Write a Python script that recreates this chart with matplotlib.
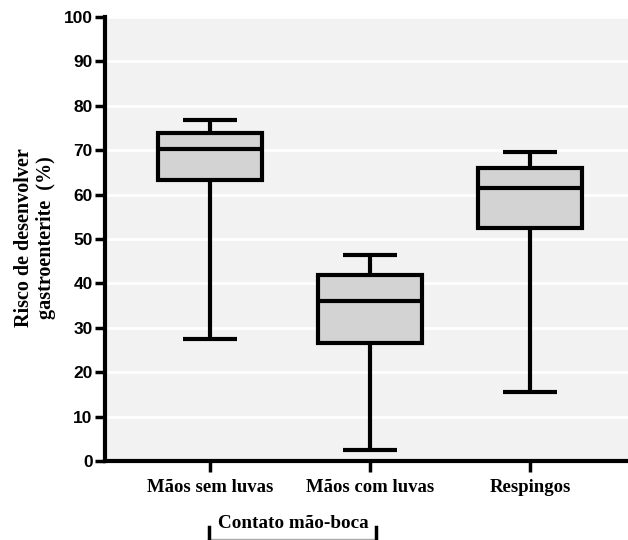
import matplotlib
matplotlib.use("Agg")
import matplotlib.pyplot as plt
from matplotlib.lines import Line2D

categories = ["Mãos sem luvas", "Mãos com luvas", "Respingos"]
whislo = [27.5, 2.5, 15.6]
q1 = [63.3, 26.6, 52.5]
med = [70.3, 36.1, 61.5]
q3 = [73.9, 41.9, 66.0]
whishi = [76.8, 46.4, 69.6]
yticks = [0, 10, 20, 30, 40, 50, 60, 70, 80, 90, 100]

fig = plt.figure(figsize=(6.28, 5.40), dpi=100)
ax = fig.add_axes([105/628, 79/540, 523/628, 444/540])
ax.set_facecolor("#f2f2f2")

stats = []
for i, c in enumerate(categories):
    stats.append(dict(label=c, whislo=whislo[i], q1=q1[i], med=med[i], q3=q3[i], whishi=whishi[i], fliers=[]))

positions = list(range(len(categories)))
ax.bxp(stats, positions=positions, widths=0.65, capwidths=0.34, patch_artist=True, showfliers=False,
       boxprops=dict(facecolor="#d3d3d3", edgecolor="black", linewidth=3),
       medianprops=dict(color="black", linewidth=3),
       whiskerprops=dict(color="black", linewidth=3, solid_capstyle="butt"),
       capprops=dict(color="black", linewidth=3, solid_capstyle="butt"), zorder=3)

ax.set_ylim(0, 100)
ax.set_xlim(-0.656, 2.6125)
ax.set_yticks(yticks)
ax.yaxis.grid(True, color="white", linewidth=2)
ax.set_axisbelow(True)

for s in ["top", "right"]:
    ax.spines[s].set_visible(False)
for s in ["left", "bottom"]:
    ax.spines[s].set_linewidth(3)

ax.tick_params(axis="y", length=7, width=2.5, pad=2)
ax.tick_params(axis="x", length=8, width=2.5, pad=5)
for lab in ax.get_yticklabels():
    lab.set_fontfamily("Liberation Sans")
    lab.set_fontweight("bold")
    lab.set_fontsize(12.5)
ax.set_xticks(positions)
ax.set_xticklabels(categories, fontfamily="Liberation Serif", fontweight="bold", fontsize=13.5)

fig.text(0.056, 1 - 238/540, "Risco de desenvolver\ngastroenterite  (%)", rotation=90,
         ha="center", va="center", fontfamily="Liberation Serif", fontweight="bold", fontsize=14.5,
         linespacing=1.1)

fig.text(293/628, 1 - 523/540, "Contato mão-boca", ha="center", va="center",
         fontfamily="Liberation Serif", fontweight="bold", fontsize=13.8)
fig.add_artist(Line2D([208/628, 376/628], [1.5/540, 1.5/540], color="#aaaaaa", linewidth=1))
fig.add_artist(Line2D([209/628, 209/628], [0, 13/540], color="black", linewidth=2.5))
fig.add_artist(Line2D([376/628, 376/628], [0, 13/540], color="black", linewidth=2.5))

fig.savefig("out.png", dpi=100)
